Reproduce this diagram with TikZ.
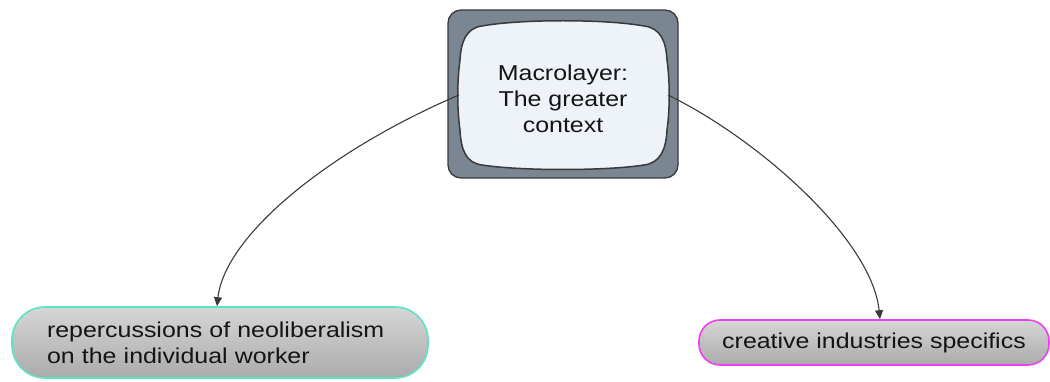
\documentclass[tikz,border=0pt]{standalone}
\usepackage{fontspec}
\setmainfont{Liberation Sans}[FakeStretch=1.16]
\usetikzlibrary{arrows.meta}
\definecolor{outerfill}{HTML}{7A8792}
\definecolor{innerfill}{HTML}{EEF3F9}
\definecolor{edge}{HTML}{3A3A3A}
\definecolor{teal}{HTML}{5CE3C6}
\definecolor{magent}{HTML}{EE3FEE}
\definecolor{gtop}{HTML}{D6D6D6}
\definecolor{gbot}{HTML}{ABABAB}
\begin{document}
\begin{tikzpicture}[x=1pt,y=-1pt,
  txt/.style={font=\fontsize{21.5}{26}\selectfont, text=black!92},
  pill/.style={txt, draw, line width=1.6pt, top color=gtop, bottom color=gbot, inner sep=0pt},
  conn/.style={draw=edge, line width=1.1pt, -{Triangle[length=9pt,width=8pt]}}]
\useasboundingbox (0,0) rectangle (1050,382);
% central outer box
\node[draw=edge, line width=1.3pt, fill=outerfill, rounded corners=13pt,
      minimum width=230pt, minimum height=168pt, inner sep=0pt] (outer) at (563,94) {};
% inner bulged screen shape
\draw[edge, line width=1.5pt, fill=innerfill]
  (482,26) .. controls (520,19) and (606,19) .. (644,26)
  .. controls (661,28) and (666,42) .. (667,60)
  .. controls (670,82) and (670,108) .. (667,130)
  .. controls (666,150) and (660,163) .. (644,165)
  .. controls (606,171) and (520,171) .. (482,165)
  .. controls (466,163) and (461,150) .. (460,130)
  .. controls (457,108) and (457,82) .. (460,60)
  .. controls (461,42) and (466,28) .. (482,26) -- cycle;
\node[txt, align=center] (macro) at (563,99) {Macrolayer:\\The greater\\context};
\coordinate (cl) at (459,95);
\coordinate (cr) at (668,95);
% bottom nodes
\node[pill, draw=teal, rounded corners=33pt, minimum width=416pt, minimum height=71pt,
      text width=346pt, align=left] (rep) at (220,342.5)
  {repercussions of neoliberalism\\on the individual worker};
\node[pill, draw=magent, rounded corners=21pt, minimum width=350pt, minimum height=45pt,
      align=center] (cre) at (874,342.5) {creative industries specifics};
% connectors
\draw[conn] (cl) .. controls (330,150) and (225,235) .. ([xshift=-3pt]rep.north);
\draw[conn] (cr) .. controls (760,140) and (872,240) .. ([xshift=6pt]cre.north);
\end{tikzpicture}
\end{document}
